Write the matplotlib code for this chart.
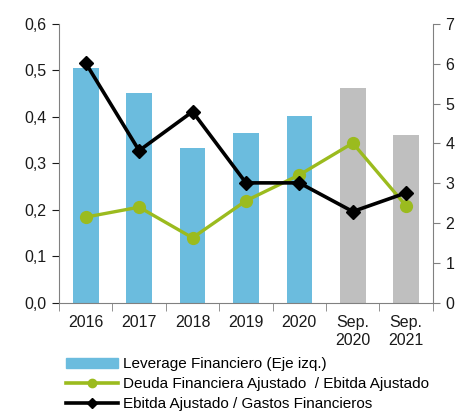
import matplotlib
matplotlib.use("Agg")
import matplotlib.pyplot as plt
from matplotlib import font_manager
from matplotlib.lines import Line2D
import matplotlib.patches as mpatches
import numpy as np

names = {f.name for f in font_manager.fontManager.ttflist}
fam = ['Liberation Sans Narrow', 'Liberation Sans', 'DejaVu Sans']
fam = [f for f in fam if f in names] + ['DejaVu Sans']
plt.rcParams['font.family'] = fam
narrow = 'Liberation Sans Narrow' in names
tick_fs = 12.5 if narrow else 11.5
leg_fs = 12.5 if narrow else 11

categories = ["2016", "2017", "2018", "2019", "2020", "Sep.\n2020", "Sep.\n2021"]
leverage = [0.505, 0.451, 0.334, 0.366, 0.402, 0.462, 0.361]
deuda_ebitda = [2.15, 2.40, 1.63, 2.56, 3.21, 4.01, 2.43]
ebitda_gastos = [6.02, 3.82, 4.80, 3.01, 3.01, 2.29, 2.76]
bar_colors = ["#6BBCDE"] * 5 + ["#BFBFBF"] * 2
green = '#9BBB1E'

fig = plt.figure(figsize=(4.61, 4.11), dpi=100)
ax = fig.add_axes([0.128, 0.2635, 0.811, 0.678])
x = np.arange(len(categories))
ax.bar(x, leverage, width=0.48, color=bar_colors, zorder=1)
ax.set_xlim(-0.5, len(categories) - 0.5)
ax.set_ylim(0, 0.6)
yt = np.arange(0, 0.61, 0.1)
ax.set_yticks(yt)
ax.set_yticklabels([f"{v:.1f}".replace('.', ',') for v in yt])
ax.set_xticks(x)
ax.set_xticklabels(categories, linespacing=1.25)
ax.set_xticks(np.arange(-0.5, len(categories), 1), minor=True)
ax.tick_params(axis='x', which='major', length=0, pad=9)
ax.tick_params(axis='x', which='minor', length=6, color='#808080', direction='out')
ax.tick_params(axis='y', length=5, color='#808080', direction='out', pad=4)
ax.tick_params(labelsize=tick_fs, colors='#1a1a1a')
for s in ['top', 'right']:
    ax.spines[s].set_visible(False)
for s in ['left', 'bottom']:
    ax.spines[s].set_color('#808080')

ax2 = ax.twinx()
ax2.set_ylim(0, 7)
ax2.set_yticks(range(0, 8))
ax2.plot(x, deuda_ebitda, color=green, lw=2.4, marker='o', ms=8.5, zorder=3)
ax2.plot(x, ebitda_gastos, color='black', lw=2.6, marker='D', ms=7.5, zorder=4)
ax2.tick_params(axis='y', length=5, color='#808080', direction='out',
                labelsize=tick_fs, colors='#1a1a1a', pad=4)
for s in ['top', 'left', 'bottom']:
    ax2.spines[s].set_visible(False)
ax2.spines['right'].set_color('#808080')

h0 = mpatches.Patch(color="#6BBCDE")
h1 = Line2D([], [], color=green, lw=2.6, marker='o', ms=6)
h2 = Line2D([], [], color='black', lw=2.6, marker='D', ms=5)
fig.legend([h0, h1, h2],
           ["Leverage Financiero (Eje izq.)",
            "Deuda Financiera Ajustado  / Ebitda Ajustado",
            "Ebitda Ajustado / Gastos Financieros"],
           loc='upper left', bbox_to_anchor=(0.143, 0.131), frameon=False,
           fontsize=leg_fs, handlelength=3.4, handletextpad=0.33,
           labelspacing=0.4, borderaxespad=0, borderpad=0, handleheight=0.6)
fig.savefig("out.png", dpi=100)
